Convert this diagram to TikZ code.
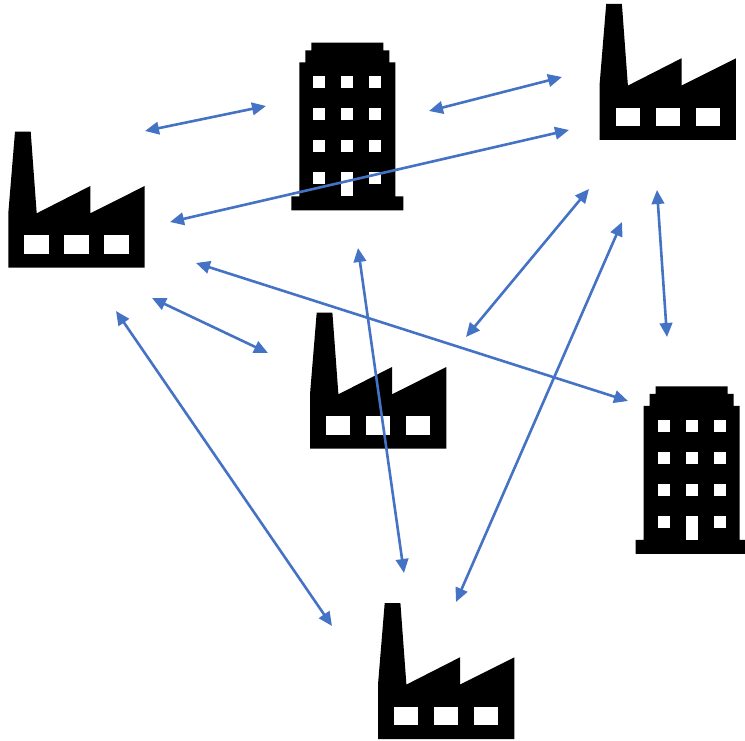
\documentclass[tikz,border=0pt]{standalone}
\usepackage{xcolor}
\usepackage{tikz}
\usetikzlibrary{arrows.meta}
\definecolor{linkblue}{RGB}{68, 114, 196}
\tikzset{
    link/.style={{Triangle[length=14pt,width=12.5pt]}-{Triangle[length=14pt,width=12.5pt]}, line width=2.6pt, linkblue},
    solid black/.style={fill=black, draw=none},
    pane/.style={fill=white, draw=none},
    pics/factory/.style={code={
        \path[solid black] (6.7,0) -- (22.4,0) -- (28.4,81.6) -- (82,54.3) -- (82,81.6) -- (136.4,54.3)
            -- (136.4,136) -- (0,136) -- (0,81.6) -- cycle;
        \foreach \px in {16,56,96}
            \path[pane] (\px,103.6) rectangle ++(24.4,18.4);
    }},
    pics/tower/.style={code={
        \path[solid black] (20,0) -- (92,0) -- (92,7.6) -- (98,7.6) -- (98,19.6) -- (104,19.6) -- (104,153.6)
            -- (112,153.6) -- (112,167.6) -- (0,167.6) -- (0,153.6) -- (8,153.6) -- (8,19.6) -- (14,19.6)
            -- (14,7.6) -- (20,7.6) -- cycle;
        \foreach \py in {33.6,65.6,97.6}
            \foreach \px in {22,50,78}
                \path[pane] (\px,\py) rectangle ++(12,12);
        \path[pane] (22,129.6) rectangle ++(12,12);
        \path[pane] (50,129.6) rectangle ++(12,24);
        \path[pane] (78,129.6) rectangle ++(12,12);
    }}
}
\begin{document}
\begin{tikzpicture}[x=1pt, y=-1pt]
    \useasboundingbox (0,0) rectangle (745,741);

    % sites
    \pic (factoryWest) at (8.3,131.7) {factory};
    \pic (factoryNorth) at (599.5,4) {factory};
    \pic (factoryMid) at (310,312.7) {factory};
    \pic (factorySouth) at (378,603) {factory};
    \pic (towerNorth) at (291.3,42.7) {tower};
    \pic (towerEast) at (635.5,386.3) {tower};

    % link ends
    \coordinate (wn1) at (145,131);
    \coordinate (tn1) at (266,106);
    \coordinate (tn2) at (429,111);
    \coordinate (fn1) at (562,77);
    \coordinate (wn2) at (170,222);
    \coordinate (fn2) at (569,130);
    \coordinate (we1) at (196,263);
    \coordinate (te1) at (628,401);
    \coordinate (wm1) at (152,298);
    \coordinate (mw1) at (268,353);
    \coordinate (ws1) at (116,311);
    \coordinate (sw1) at (332,626);
    \coordinate (tn3) at (358,248);
    \coordinate (st1) at (404,573);
    \coordinate (mn1) at (466,337);
    \coordinate (fn3) at (589,189);
    \coordinate (fn4) at (622,222);
    \coordinate (sn1) at (456,602);
    \coordinate (fn5) at (657,190);
    \coordinate (te2) at (667,337);

    % links
    \draw[link] (wn1) -- (tn1);
    \draw[link] (tn2) -- (fn1);
    \draw[link] (wn2) -- (fn2);
    \draw[link] (we1) -- (te1);
    \draw[link] (wm1) -- (mw1);
    \draw[link] (ws1) -- (sw1);
    \draw[link] (tn3) -- (st1);
    \draw[link] (mn1) -- (fn3);
    \draw[link] (fn4) -- (sn1);
    \draw[link] (fn5) -- (te2);
\end{tikzpicture}
\end{document}
